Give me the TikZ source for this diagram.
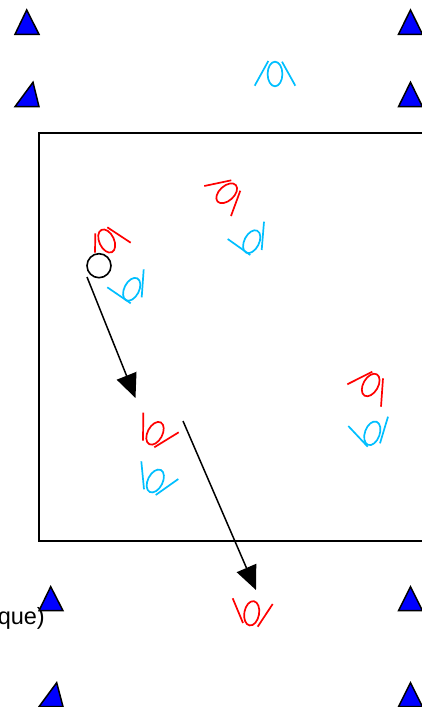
\documentclass[tikz,border=0pt]{standalone}
\usepackage{fontspec}
\setmainfont{Liberation Sans}
\usetikzlibrary{arrows.meta}
\definecolor{skyp}{RGB}{0,191,255}
\tikzset{
  x=1pt,y=-1pt,
  frame/.style={draw=black,line width=1.5pt},
  cone/.style={draw=black,fill=blue,line width=1.5pt,line join=miter},
  arm/.style={line width=1.7pt,line cap=butt},
  hoop/.style={line width=1.7pt,x radius=12.3pt,y radius=7.4pt},
  redp/.style={draw=red},
  bluep/.style={draw=skyp},
  ball/.style={circle,draw=black,fill=white,line width=1.6pt,minimum size=24pt,inner sep=0pt},
  pass/.style={draw=black,line width=1.5pt,-{Triangle[length=24pt,width=21pt]}},
}
\newcommand{\cone}[6]{\draw[cone] (#1,#2) -- (#3,#4) -- (#5,#6) -- cycle;}
\newcommand{\playerfig}[6]{%
  \draw[#1,arm] #5;
  \draw[#1,arm] #6;
  \draw[#1,hoop,rotate around={#4:(#2,#3)}] (#2,#3) circle[];
}
\begin{document}
\begin{tikzpicture}
\useasboundingbox (0,0) rectangle (422,707);
\clip (0,0) rectangle (422,707);
\fill[white] (0,0) rectangle (422,707);
\node[anchor=base east,font=\fontsize{23.5pt}{28pt}\selectfont,inner sep=0pt] (label) at (45,624.3) {que)};
\draw[frame] (39,133) rectangle (430,541);
\cone{26.7}{10}{15}{34.3}{39}{34.3}
\cone{33}{82.3}{15}{106.7}{39}{106.7}
\cone{410.5}{10}{398.5}{34.3}{422.5}{34.3}
\cone{410.5}{82.3}{398.5}{106.7}{422.5}{106.7}
\cone{50.7}{586.7}{39}{610.7}{63}{610.7}
\cone{56.7}{682.7}{39}{706.7}{63}{706.7}
\cone{410.5}{586.7}{398.5}{610.7}{422.5}{610.7}
\cone{410.5}{682.7}{398.5}{706.7}{422.5}{706.7}
\playerfig{bluep}{275}{74}{90}{(254.7,85.7) -- (268.3,61)}{(282,61.7) -- (295.3,85.7)}
\playerfig{redp}{226.7}{193.3}{42}{(204.3,186) -- (231.3,180.3)}{(240.3,190.7) -- (231,216)}
\playerfig{bluep}{251.7}{241.7}{63}{(227.7,239) -- (250.3,255)}{(264,221.7) -- (261.7,250)}
\playerfig{redp}{106.7}{241}{115}{(95.3,233.3) -- (95,252.7)}{(107.3,227.3) -- (130.7,242.7)}
\playerfig{bluep}{131.7}{289.3}{63}{(107.3,287.3) -- (130.7,303.3)}{(143.7,269.3) -- (141.7,297.3)}
\playerfig{redp}{155}{433.3}{62}{(143.3,412.7) -- (143,440.7)}{(178.7,432.3) -- (154.3,447.3)}
\playerfig{bluep}{155.3}{481}{63}{(141.3,461.3) -- (144,489.3)}{(178.3,479) -- (155.7,495)}
\playerfig{redp}{370.7}{385}{60}{(347.3,384.3) -- (372.3,371.7)}{(383,378.3) -- (381,406.7)}
\playerfig{bluep}{372.3}{433.3}{70}{(348.3,426) -- (367.7,446.7)}{(388,416.7) -- (380,443.3)}
\playerfig{redp}{251.7}{613.3}{80}{(232.7,598.3) -- (243,623)}{(272.7,604) -- (257.7,626.7)}
\node[ball] (ball) at (99,265.7) {};
\coordinate (p1s) at (87,277);
\coordinate (p1e) at (135.5,398);
\coordinate (p2s) at (183,421);
\coordinate (p2e) at (256,590);
\draw[pass] (p1s) -- (p1e);
\draw[pass] (p2s) -- (p2e);
\end{tikzpicture}
\end{document}
